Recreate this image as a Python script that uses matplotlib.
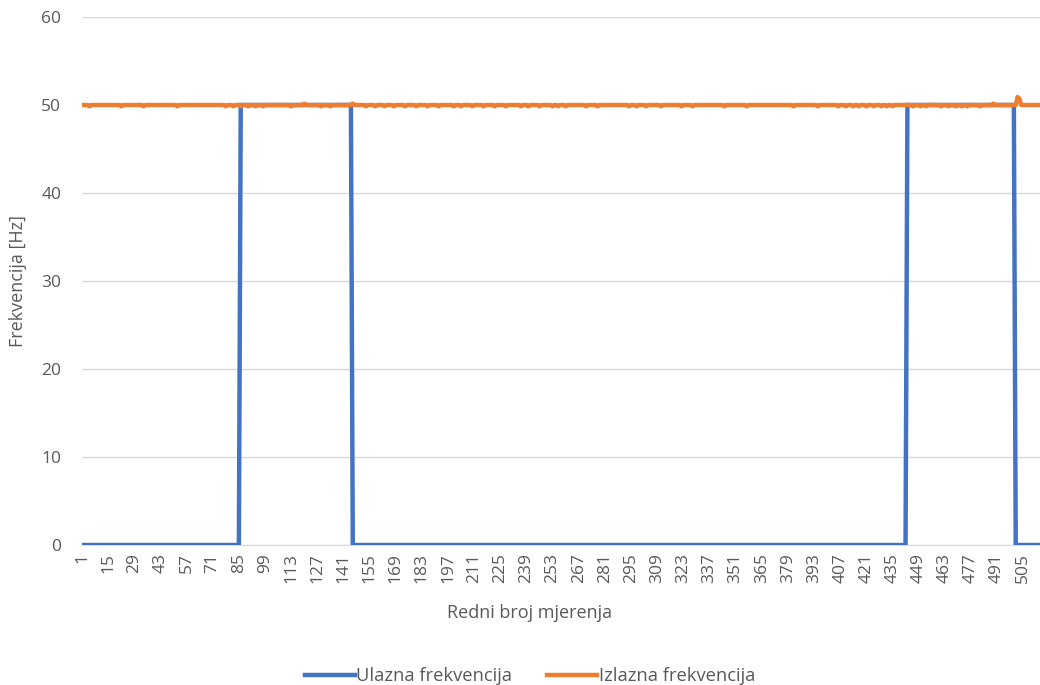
import matplotlib.pyplot as plt

plt.rcParams['font.family'] = ['Open Sans', 'DejaVu Sans']

# redni broj mjerenja 1..514
mjerenja = list(range(1, 515))

# ulazna frekvencija: 0 Hz / 50 Hz odsjecci
ulazna = [0] * 85 + [50] * 60 + [0] * 297 + [50] * 58 + [0] * 14

# izlazna frekvencija: ~50 Hz, s ocitanim malim odstupanjima
izlazna = [50.0] * 514
padovi = [5, 22, 34, 52, 78, 82, 86, 90, 94, 98, 113, 129, 134, 153, 158, 163,
          168, 174, 180, 186, 192, 200, 204, 210, 216, 222, 228, 236, 240, 246,
          253, 256, 260, 271, 277, 294, 298, 303, 311, 322, 328, 345, 357, 382,
          395, 406, 410, 414, 417, 421, 425, 429, 432, 435, 446, 450, 453, 461,
          465, 469, 472, 475, 482]
skokovi = [120, 146, 489]
for i in padovi:
    izlazna[i - 1] = 49.85
for i in skokovi:
    izlazna[i - 1] = 50.15
izlazna[501] = 50.9
izlazna[502] = 50.7

x_ticks = list(range(1, 515, 14))

gray = '#595959'
fig = plt.figure(figsize=(10.4, 6.85), dpi=100)
ax = fig.add_axes([82 / 1040, 1 - 545 / 685, 1 - 82 / 1040, (545 - 17) / 685])

ax.plot(mjerenja, ulazna, color='#4472c4', lw=3.2, label='Ulazna frekvencija',
        solid_joinstyle='miter', zorder=3)
ax.plot(mjerenja, izlazna, color='#ed7d31', lw=3.2, label='Izlazna frekvencija',
        zorder=4)

ax.set_xlim(1, 514)
ax.set_ylim(0, 60)
ax.set_yticks(range(0, 61, 10))
ax.set_xticks(x_ticks)
ax.set_xticklabels([str(t) for t in x_ticks], rotation=90)
ax.grid(axis='y', color='#d9d9d9', lw=1)
ax.set_axisbelow(True)
for s in ['top', 'right', 'left']:
    ax.spines[s].set_visible(False)
ax.spines['bottom'].set_color('#d9d9d9')
ax.tick_params(length=0, colors=gray, labelsize=12.5)
ax.tick_params(axis='y', pad=15)
ax.tick_params(axis='x', pad=6)

ax.set_ylabel('Frekvencija [Hz]', color=gray, fontsize=13)
ax.yaxis.set_label_coords(-(82 - 27) / 958, 0.5)
ax.set_xlabel('Redni broj mjerenja', color=gray, fontsize=13)
ax.xaxis.set_label_coords((530 - 82) / 958, -(604 - 545) / 528)

fig.legend(loc='center', bbox_to_anchor=(530 / 1040, 1 - 676 / 685), ncol=2,
           frameon=False, fontsize=13.2, labelcolor=gray, handlelength=2.7,
           handletextpad=0.1, columnspacing=1.9)

plt.savefig('out.png', dpi=100)
